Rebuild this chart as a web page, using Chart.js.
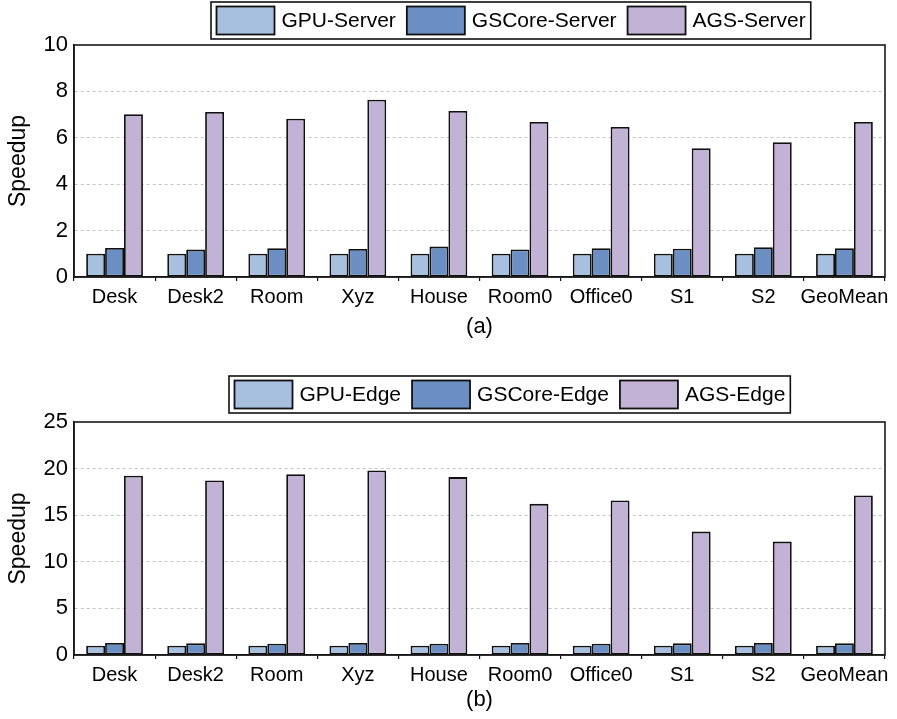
<!DOCTYPE html>
<html>
<head>
<meta charset="utf-8">
<script src="https://cdn.jsdelivr.net/npm/chart.js@4.4.1/dist/chart.umd.min.js"></script>
<style>
  html, body { margin: 0; padding: 0; background: #fff; }
  .wrap { position: absolute; left: 0; width: 897px; }
  #w1 { top: 0; height: 360px; }
  #w2 { top: 360px; height: 359px; }
</style>
</head>
<body>
<div class="wrap" id="w1"><canvas id="c1" width="897" height="360"></canvas></div>
<div class="wrap" id="w2"><canvas id="c2" width="897" height="359"></canvas></div>
<script>
const categories = ['Desk', 'Desk2', 'Room', 'Xyz', 'House', 'Room0', 'Office0', 'S1', 'S2', 'GeoMean'];

// (a) Server
const serverLabels = ['GPU-Server', 'GSCore-Server', 'AGS-Server'];
const gpuServer    = [1, 1, 1, 1, 1, 1, 1, 1, 1, 1];
const gscoreServer = [1.25, 1.18, 1.24, 1.21, 1.31, 1.19, 1.24, 1.22, 1.28, 1.24];
const agsServer    = [7.01, 7.11, 6.82, 7.64, 7.16, 6.68, 6.47, 5.55, 5.81, 6.68];
const serverTicks  = [0, 2, 4, 6, 8, 10];

// (b) Edge
const edgeLabels = ['GPU-Edge', 'GSCore-Edge', 'AGS-Edge'];
const gpuEdge    = [1, 1, 1, 1, 1, 1, 1, 1, 1, 1];
const gscoreEdge = [1.29, 1.25, 1.2, 1.3, 1.2, 1.29, 1.2, 1.25, 1.29, 1.25];
const agsEdge    = [19.23, 18.72, 19.4, 19.8, 19.09, 16.22, 16.57, 13.24, 12.17, 17.11];
const edgeTicks  = [0, 5, 10, 15, 20, 25];

const COLORS = ['#a7c0e0', '#6b8fc3', '#c2b2d6'];
const FONT = "'Liberation Sans', Arial, Helvetica, sans-serif";

const framePlugin = {
  id: 'frame',
  afterDatasetsDraw(chart) {
    const {ctx, chartArea: a} = chart;
    ctx.save();
    ctx.strokeStyle = '#1a1a1a';
    ctx.lineWidth = 1.6;
    ctx.strokeRect(a.left, a.top, a.right - a.left, a.bottom - a.top);
    ctx.restore();
  }
};

const boxLegendPlugin = {
  id: 'boxLegend',
  afterDraw(chart, args, opts) {
    const {ctx} = chart;
    const ds = chart.data.datasets;
    ctx.save();
    ctx.font = '21px ' + FONT;
    ctx.textBaseline = 'middle';
    ctx.textAlign = 'left';
    const sw = 58, sh = 28, padL = 5.5, gapT = 7, gapI = 11, padR = 5;
    const h = 37;
    let w = padL + padR;
    ds.forEach((d, i) => {
      w += sw + gapT + ctx.measureText(d.label).width;
      if (i < ds.length - 1) w += gapI;
    });
    const x0 = opts.left, y0 = opts.top;
    ctx.fillStyle = '#fff';
    ctx.fillRect(x0, y0, w, h);
    ctx.lineWidth = 1.6;
    ctx.strokeStyle = '#111';
    ctx.strokeRect(x0, y0, w, h);
    let x = x0 + padL;
    ds.forEach((d, i) => {
      const sy = y0 + (h - sh) / 2;
      ctx.fillStyle = d.backgroundColor;
      ctx.fillRect(x, sy, sw, sh);
      ctx.lineWidth = 1.8;
      ctx.strokeStyle = '#111';
      ctx.strokeRect(x, sy, sw, sh);
      x += sw + gapT;
      ctx.fillStyle = '#000';
      ctx.fillText(d.label, x, y0 + h / 2 + 1);
      x += ctx.measureText(d.label).width + gapI;
    });
    ctx.restore();
  }
};

function makeChart(id, labels, series, ticks, caption, cfg) {
  const ymax = ticks[ticks.length - 1];
  const step = ticks[1] - ticks[0];
  return new Chart(document.getElementById(id), {
    type: 'bar',
    data: {
      labels: categories,
      datasets: series.map((vals, i) => ({
        label: labels[i],
        data: vals,
        backgroundColor: COLORS[i],
        borderColor: '#111',
        borderWidth: 1.8,
        borderSkipped: false,
        categoryPercentage: 0.70,
        barPercentage: 1.0
      }))
    },
    options: {
      responsive: false,
      animation: false,
      events: [],
      layout: { padding: { left: 0, right: 12, top: cfg.padTop, bottom: 0 } },
      plugins: {
        legend: { display: false },
        tooltip: { enabled: false },
        boxLegend: { left: cfg.legLeft, top: cfg.legTop }
      },
      scales: {
        x: {
          offset: true,
          border: { display: true, color: '#111', width: 1.6 },
          grid: { offset: true, drawOnChartArea: false, drawTicks: true, tickLength: 4, color: '#111', lineWidth: 1.2 },
          ticks: { color: '#000', font: { family: FONT, size: 20 }, padding: 4, maxRotation: 0, autoSkip: false },
          title: { display: true, text: caption, color: '#000', font: { family: FONT, size: 22 }, padding: { top: 0, bottom: cfg.capPad } },
          afterFit(s) { s.height = cfg.xHeight; }
        },
        y: {
          min: 0,
          max: ymax,
          border: { display: true, color: '#111', width: 1.6, dash: [3, 3] },
          grid: {
            drawTicks: false,
            color: (c) => (c.tick && (c.tick.value === 0 || c.tick.value === ymax)) ? 'rgba(0,0,0,0)' : '#c4c4c4',
            lineWidth: 1
          },
          ticks: { stepSize: step, color: '#000', font: { family: FONT, size: 22 }, padding: 6 },
          title: { display: true, text: 'Speedup', color: '#000', font: { family: FONT, size: 23 }, padding: { top: 5, bottom: 0 } },
          afterFit(s) { s.width = 74; }
        }
      }
    },
    plugins: [framePlugin, boxLegendPlugin]
  });
}

const c1 = makeChart('c1', serverLabels, [gpuServer, gscoreServer, agsServer], serverTicks, '(a)',
  { padTop: 45, xHeight: 83, capPad: 20, legLeft: 211, legTop: 2 });
const c2 = makeChart('c2', edgeLabels, [gpuEdge, gscoreEdge, agsEdge], edgeTicks, '(b)',
  { padTop: 62, xHeight: 64, capPad: 6, legLeft: 229, legTop: 16 });
</script>
</body>
</html>
